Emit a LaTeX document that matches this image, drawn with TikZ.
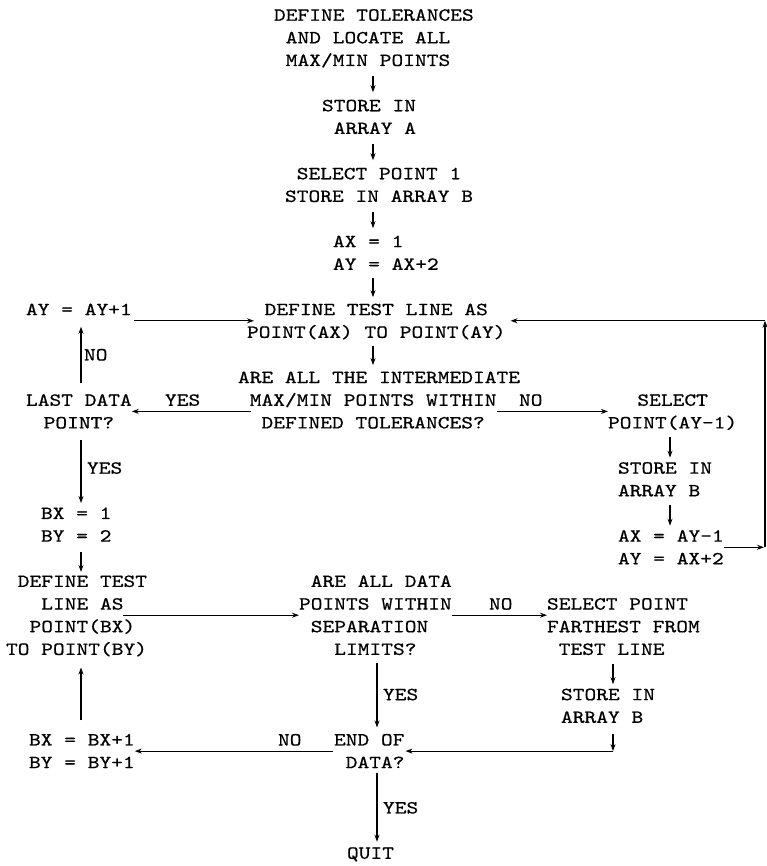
\documentclass[tikz,border=0pt]{standalone}
\usepackage{fontspec}
\newfontfamily\tw[FakeStretch=1.21,FakeBold=0.6]{lmmono10-regular.otf}
\usetikzlibrary{arrows.meta}
\newcommand\ls{\rule[-3.6pt]{0pt}{18.6pt}}
\newcommand\ix[1]{\hphantom{#1}}
\begin{document}
\begin{tikzpicture}[x=1pt,y=-1pt,
  txt/.style={font=\tw\fontsize{18.5}{22.65}\selectfont, inner sep=0pt, outer sep=0pt, anchor=west, align=left},
  ctxt/.style={txt, align=center},
  arr/.style={line width=1.1pt, -{Stealth[length=7pt,width=5pt]}}]
\fill[white] (0,0) rectangle (767,866);
\useasboundingbox (0,0) rectangle (767,866);
% main column
\node[txt] (n1) at (274,37.65) {\ls DEFINE TOLERANCES\\\ls\ix{X}AND LOCATE ALL\\\ls\ix{X}MAX/MIN POINTS};
\node[txt] (n2) at (322,116.9) {\ls STORE IN\\\ls\ix{X}ARRAY A};
\node[txt] (n3) at (285,184.9) {\ls\ix{X}SELECT POINT 1\\\ls STORE IN ARRAY B};
\node[txt] (n4) at (333,252.8) {\ls AX = 1\\\ls AY = AX+2};
\node[ctxt] (n5) at (247,320.8) {\ls DEFINE TEST LINE AS\\\ls POINT(AX) TO POINT(AY)};
\node[txt] (n6) at (238,400.05) {\ls ARE ALL THE INTERMEDIATE\\\ls\ix{X}MAX/MIN POINTS WITHIN\\\ls\ix{XX}DEFINED TOLERANCES?};
\node[txt] (n7) at (26,309.45) {\ls AY = AY+1};
\node[ctxt] (n8) at (26,411.4) {\ls LAST DATA\\\ls POINT?};
\node[ctxt] (n9) at (608,411.4) {\ls SELECT\\\ls POINT(AY-1)};
\node[txt] (n10) at (618,479.3) {\ls STORE IN\\\ls ARRAY B};
\node[txt] (n11) at (618,547.3) {\ls AX = AY-1\\\ls AY = AX+2};
\node[txt] (n12) at (41,524.6) {\ls BX = 1\\\ls BY = 2};
\node[txt] (n13) at (6,615.2) {\ls\ix{X}DEFINE TEST\\\ls\ix{XXX}LINE AS\\\ls\ix{XX}POINT(BX)\\\ls TO POINT(BY)};
\node[txt] (n14) at (299,615.2) {\ls\ix{X}ARE ALL DATA\\\ls POINTS WITHIN\\\ls\ix{X}SEPARATION\\\ls\ix{XXX}LIMITS?};
\node[txt] (n15) at (547,626.55) {\ls SELECT POINT\\\ls FARTHEST FROM\\\ls\ix{X}TEST LINE};
\node[txt] (n16) at (561,705.8) {\ls STORE IN\\\ls ARRAY B};
\node[txt] (n17) at (334,751.1) {\ls END OF\\\ls\ix{X}DATA?};
\node[txt] (n18) at (29,751.1) {\ls BX = BX+1\\\ls BY = BY+1};
\node[txt] (n19) at (347,853.05) {\ls QUIT};
% labels
\node[txt] (l1) at (84,354.75) {\ls NO};
\node[txt] (l2) at (165,400.05) {\ls YES};
\node[txt] (l3) at (519,400.05) {\ls NO};
\node[txt] (l4) at (87,468) {\ls YES};
\node[txt] (l5) at (489,603.9) {\ls NO};
\node[txt] (l6) at (383,694.5) {\ls YES};
\node[txt] (l7) at (278,739.8) {\ls NO};
\node[txt] (l8) at (383,807.75) {\ls YES};
% helper coordinates
\coordinate (ca) at (373,0);
\coordinate (cb) at (377,0);
\coordinate (cl) at (81,0);
\coordinate (cr) at (670,0);
\coordinate (cs) at (613,0);
\coordinate (r1) at (765,547.3);
\coordinate (r2) at (765,320.8);
\coordinate (c2) at (613,751.1);
% connectors
\draw[arr,shorten <=6pt,shorten >=4pt] (n1.south -| ca) -- (n2.north -| ca);
\draw[arr,shorten <=6pt,shorten >=4pt] (n2.south -| ca) -- (n3.north -| ca);
\draw[arr,shorten <=6pt,shorten >=4pt] (n3.south -| ca) -- (n4.north -| ca);
\draw[arr,shorten <=5pt,shorten >=3pt] (n4.south -| ca) -- (n5.north -| ca);
\draw[arr,shorten <=5pt,shorten >=3pt] (n5.south -| ca) -- (n6.north -| ca);
\draw[arr,shorten <=2pt,shorten >=-7pt] (n7.east |- n5.west) -- (n5.west);
\draw[arr,shorten <=8pt,shorten >=8pt] (n8.north -| cl) -- (n7.south -| cl);
\draw[arr,shorten <=-13pt] (n6.west |- n8.east) -- (n8.east);
\draw[arr,shorten <=-23pt] (n6.east |- n9.west) -- (n9.west);
\draw[arr,shorten <=5pt,shorten >=1pt] (n9.south -| cr) -- (n10.north -| cr);
\draw[arr,shorten <=5pt,shorten >=1pt] (n10.south -| cr) -- (n11.north -| cr);
\draw[arr,shorten >=1pt] (n11.east) -- (r1);
\draw[arr] (r1) -- (r2);
\draw[arr,shorten >=5pt] (r2) -- (n5.east);
\draw[arr,shorten <=8pt,shorten >=1pt] (n8.south -| cl) -- (n12.north -| cl);
\draw[arr,shorten <=7pt] (n12.south -| cl) -- (n13.north -| cl);
\draw[arr,shorten <=-24pt] (n13.east) -- (n14.west);
\draw[arr] (n14.east) -- (n14.east -| n15.west);
\draw[arr,shorten <=5pt,shorten >=3pt] (n14.south -| cb) -- (n17.north -| cb);
\draw[arr,shorten <=5pt,shorten >=1pt] (n15.south -| cs) -- (n16.north -| cs);
\draw[arr,shorten <=8pt] (n16.south -| cs) -- (c2);
\draw[arr,shorten >=1pt] (c2) -- (n17.east);
\draw[arr,shorten <=1pt] (n17.west) -- (n18.east);
\draw[arr,shorten <=10pt,shorten >=9pt] (n18.north -| cl) -- (n13.south -| cl);
\draw[arr,shorten <=1pt,shorten >=2pt] (n17.south -| cb) -- (n19.north -| cb);
\end{tikzpicture}
\end{document}
